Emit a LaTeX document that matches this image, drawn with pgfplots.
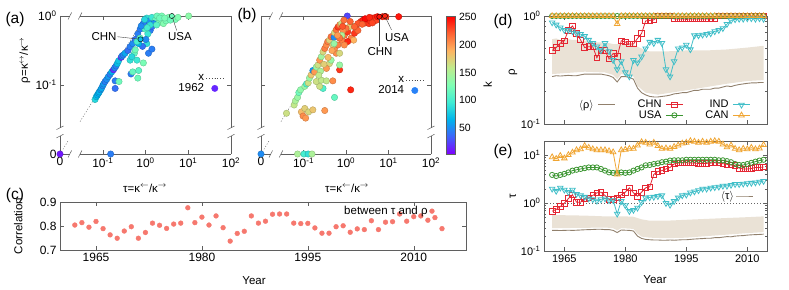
\documentclass[border=0pt]{standalone}
\usepackage{fontspec}
\setmainfont{Liberation Sans}
\usepackage{pgfplots}
\usepackage{pgfplotstable}
\pgfplotsset{compat=1.18}

\definecolor{chn}{RGB}{228,40,52}
\definecolor{usa}{RGB}{60,150,50}
\definecolor{ind}{RGB}{64,190,200}
\definecolor{can}{RGB}{240,165,50}
\definecolor{bandc}{RGB}{234,226,214}
\definecolor{meanc}{RGB}{145,128,108}
\definecolor{corrc}{RGB}{246,120,110}
\definecolor{framec}{RGB}{95,95,95}
\definecolor{k15}{rgb}{0.40,0.15,1.0}
\definecolor{k45}{rgb}{0.16,0.51,0.97}

\pgfplotsset{
  colormap={gprain}{rgb=(0.5,0,1) rgb=(0.25,0.383,0.981) rgb=(0,0.707,0.924) rgb=(0.25,0.924,0.831) rgb=(0.5,1,0.707) rgb=(0.75,0.924,0.556) rgb=(1,0.707,0.383) rgb=(1,0.383,0.195) rgb=(1,0,0)},
  every axis/.append style={scale only axis, axis line style={framec, line width=0.5pt},
    tick style={framec, line width=0.5pt}, major tick length=4pt, minor tick length=2pt,
    /pgf/number format/assume math mode=true,
    tick label style={font=\fontsize{12}{14}\selectfont},
    label style={font=\fontsize{11.5}{13}\selectfont},
    legend style={draw=none, fill=none, font=\fontsize{11.5}{13}\selectfont},
    legend plot pos=right, legend cell align=right},
}

\newcommand{\bx}[2]{\draw[framec, line width=0.5pt] ([shift={(-1.8pt,-3.5pt)}]axis cs:#1,#2) -- ++(3.6pt,7pt);}
\newcommand{\by}[2]{\draw[framec, line width=0.5pt] ([shift={(-3.5pt,-1.8pt)}]axis cs:#1,#2) -- ++(7pt,3.6pt);}
\newcommand{\brokenframe}{%
  \draw[framec, line width=0.5pt] (axis cs:-2,-2) -- (axis cs:-1.77,-2) (axis cs:-1.53,-2) -- (axis cs:2,-2);
  \draw[framec, line width=0.5pt] (axis cs:-2,0) -- (axis cs:-1.77,0) (axis cs:-1.53,0) -- (axis cs:2,0);
  \draw[framec, line width=0.5pt] (axis cs:-2,-2) -- (axis cs:-2,-1.74) (axis cs:-2,-1.62) -- (axis cs:-2,0);
  \draw[framec, line width=0.5pt] (axis cs:2,-2) -- (axis cs:2,-1.74) (axis cs:2,-1.62) -- (axis cs:2,0);
  \bx{-1.77}{-2}\bx{-1.53}{-2}\bx{-1.77}{0}\bx{-1.53}{0}
  \by{-2}{-1.74}\by{-2}{-1.62}\by{2}{-1.74}\by{2}{-1.62}}

% log10(tau) log10(rho) k ; tau=0 or rho=0 drawn at -2
\pgfplotstableread{
x y k
-2 -2 10
-0.815 -2 45
-1.18 -1.21 85
-1.15 -1.17 70
-1.125 -1.145 65
-1.10 -1.12 60
-1.08 -1.10 65
-1.05 -1.07 55
-1.03 -1.05 60
-1.00 -1.01 50
-0.98 -0.985 55
-0.945 -0.95 45
-0.91 -0.92 50
-0.87 -0.88 55
-0.83 -0.845 45
-0.79 -0.81 65
-0.75 -0.78 20
-0.72 -0.75 50
-0.69 -0.725 45
-0.66 -0.69 70
-0.63 -0.65 75
-0.57 -0.60 20
-0.55 -0.58 50
-0.52 -0.565 45
-0.48 -0.54 60
-0.41 -0.50 40
-0.36 -0.445 45
-0.30 -0.40 50
-0.24 -0.34 40
-0.18 -0.26 45
-0.125 -0.19 45
-0.07 -0.13 40
-0.02 -0.08 50
-0.71 -0.94 45
-0.71 -1.05 40
-0.62 -0.95 120
-0.34 -0.84 45
-0.30 -0.81 115
-0.18 -0.90 120
-0.16 -0.79 110
-0.05 -0.68 125
-0.36 -0.64 90
-0.26 -0.54 115
-0.32 -0.59 85
-0.20 -0.64 95
0.07 -0.54 45
0.15 -0.48 45
0.03 -0.40 90
-0.07 -0.44 40
-0.16 -0.40 65
-0.24 -0.49 120
-0.125 -0.32 115
-0.20 -0.37 100
0.11 -0.21 45
0.15 -0.155 40
0.055 -0.26 95
-0.01 -0.19 105
0.01 -0.34 50
0.03 -0.03 90
0.09 -0.07 50
0.15 -0.02 95
0.23 -0.06 115
0.30 -0.10 125
0.37 -0.05 125
0.42 -0.11 130
0.48 -0.07 125
0.54 -0.02 130
0.70 -0.05 125
0.76 -0.02 130
1.01 0 135
0.27 0 120
0.38 0 125
0.19 -0.11 50
-0.05 -0.11 45
-0.10 -0.145 50
-0.02 -0.05 85
0.11 -0.13 90
0.33 -0.03 120
0.45 -0.03 125
0.58 -0.06 120
0.26 -0.13 110
0.04 -0.17 100
}\scatA
\pgfplotstableread{
x y k
-0.117 -0.338 70
0.617 0 120
}\markA

\pgfplotstableread{
x y k
-2 -2 50
-1.14 -2 150
-0.99 -2 100
-0.89 -2 90
-0.80 -2 150
0.03 0 25
-1.40 -1.41 165
-1.22 -1.29 160
-1.19 -1.23 150
-1.14 -1.18 140
-1.11 -1.11 120
-1.07 -1.07 135
-0.97 -1.02 140
-0.93 -0.985 105
-0.89 -0.97 165
-0.86 -0.90 140
-0.82 -0.855 180
-0.78 -0.79 55
-0.74 -0.81 200
-0.70 -0.74 140
-0.66 -0.71 165
-0.62 -0.64 200
-0.58 -0.59 145
-0.54 -0.52 170
-0.50 -0.47 210
-0.46 -0.42 205
-0.43 -0.37 210
-0.39 -0.35 175
-0.35 -0.30 215
-0.28 -0.31 50
-0.27 -0.24 170
-0.23 -0.20 215
-0.19 -0.16 235
-0.15 -0.13 210
-0.11 -0.11 165
-0.05 -0.06 215
0.14 -0.145 140
-1.05 -1.39 185
-0.97 -1.34 175
-1.01 -1.45 205
-0.95 -1.48 200
-0.88 -1.39 170
-0.78 -1.36 180
-0.50 -1.37 200
-0.27 -1.18 115
-0.54 -1.05 105
-0.62 -1.02 165
-0.70 -0.95 165
-0.58 -0.93 160
-0.46 -0.94 160
-0.31 -0.94 205
-0.15 -0.78 235
-0.15 -0.71 140
-0.39 -0.69 170
-0.46 -0.76 200
-0.35 -0.64 140
-0.23 -0.54 205
-0.15 -0.54 170
-0.27 -0.47 205
-0.19 -0.42 210
-0.31 -0.42 175
0.11 -1.07 240
-0.10 -0.35 210
-0.04 -0.28 215
0.04 -0.23 235
0.12 -0.32 210
0.18 -0.35 190
0.20 -0.25 235
0.24 -0.18 215
0.28 -0.21 220
0.08 -0.155 175
0.00 -0.18 215
-0.07 -0.21 205
-0.10 -0.28 150
-0.28 -0.40 140
-0.15 -0.32 215
0.04 -0.37 240
-0.04 -0.42 205
-0.60 -0.80 150
-0.64 -0.86 160
-0.52 -0.70 175
-0.42 -0.60 185
-0.33 -0.50 195
-0.20 -0.28 200
-0.08 -0.15 225
0.10 -0.08 220
0.35 -0.08 235
0.40 -0.06 240
0.46 -0.10 230
0.50 -0.05 245
0.54 -0.11 235
0.57 -0.07 240
0.61 -0.03 245
0.65 -0.08 235
0.69 -0.02 240
0.72 -0.06 230
0.74 -0.01 245
0.86 -0.01 240
0.94 -0.01 235
1.24 -0.01 245
0.28 -0.11 225
0.20 -0.155 220
0.45 -0.04 250
0.55 -0.02 240
0.62 -0.10 230
0.38 -0.12 220
}\scatB
\pgfplotstableread{
x y k
0.784 -0.01 245
0.916 0 240
}\markB

\pgfplotstableread{
year c
1962 0.804
1963 0.814
1964 0.795
1965 0.819
1966 0.789
1967 0.763
1968 0.749
1969 0.779
1970 0.797
1971 0.749
1972 0.773
1973 0.812
1974 0.803
1975 0.790
1976 0.808
1977 0.812
1978 0.876
1979 0.814
1980 0.837
1981 0.804
1982 0.842
1983 0.793
1984 0.737
1985 0.769
1986 0.778
1987 0.842
1988 0.812
1989 0.820
1990 0.849
1991 0.850
1992 0.850
1993 0.812
1994 0.810
1995 0.811
1996 0.792
1997 0.770
1998 0.770
1999 0.797
2000 0.801
2001 0.774
2002 0.788
2003 0.785
2004 0.822
2005 0.785
2006 0.816
2007 0.818
2008 0.850
2009 0.820
2010 0.839
2011 0.842
2012 0.824
2013 0.835
2014 0.789
}\corr

\pgfplotstableread{
year chnr chnt usar usat indr indt canr cant mr mt
1962 0.48 0.68 1 3.9 0.87 2.0 1 9.2 0.275 0.27
1963 0.51 0.74 1 3.7 0.83 1.8 1 8.5 0.28 0.27
1964 0.56 0.85 1 3.9 0.78 2.1 1 9.8 0.278 0.268
1965 0.59 1.0 1 4.1 0.74 1.9 1 8.7 0.28 0.27
1966 0.74 1.25 1 4.4 0.74 1.7 1 10.2 0.282 0.272
1967 0.81 1.5 1 4.8 0.72 1.9 1 11.5 0.28 0.27
1968 0.69 1.05 1 5.0 0.69 1.55 1 12.9 0.28 0.272
1969 0.60 1.05 1 5.2 0.68 1.45 1 13.5 0.285 0.275
1970 0.51 1.25 1 5.4 0.65 1.35 1 15.8 0.29 0.278
1971 0.52 1.3 1 5.6 0.60 1.25 1 14.5 0.29 0.28
1972 0.52 1.45 1 5.6 0.56 1.2 1 13.5 0.29 0.282
1973 0.41 1.65 1 5.6 0.52 1.12 1 12.9 0.29 0.285
1974 0.48 1.7 1 5.2 0.48 1.2 1 12.9 0.29 0.285
1975 0.48 1.45 1 4.8 0.56 1.25 1 12.9 0.285 0.28
1976 0.40 1.2 1 4.4 0.47 1.15 1 12.3 0.28 0.28
1977 0.45 1.2 1 4.3 0.39 1.15 1 11.7 0.27 0.27
1978 0.42 1.3 1 4.3 0.32 0.6 0.845 4.0 0.245 0.243
1979 0.59 1.5 1 4.4 0.38 1.1 1 12.9 0.275 0.275
1980 0.575 1.7 1 4.3 0.30 0.9 1 13.2 0.275 0.272
1981 0.55 2.1 1 4.4 0.275 0.68 1 13.8 0.27 0.27
1982 0.55 1.65 1 4.8 0.39 0.72 1 13.8 0.26 0.262
1983 0.62 1.4 1 5.2 0.37 0.8 1 16.2 0.215 0.205
1984 0.69 1.7 1 5.6 0.42 1.05 1 19.0 0.195 0.183
1985 0.90 2.1 1 6.2 0.50 1.3 1 18.5 0.186 0.175
1986 0.91 2.2 1 6.3 0.575 1.32 1 17.0 0.18 0.172
1987 0.92 4.0 1 6.6 0.56 1.35 1 18.5 0.178 0.17
1988 1 4.6 1 6.8 0.60 1.4 1 15.8 0.178 0.17
1989 1 4.8 1 7.2 0.56 1.45 1 13.8 0.18 0.168
1990 1 5.2 1 7.4 0.32 1.0 1 14.1 0.182 0.168
1991 1 5.6 1 7.8 0.275 0.92 1 13.8 0.185 0.17
1992 0.94 6.6 1 7.9 0.38 1.1 1 15.1 0.19 0.168
1993 0.94 7.0 1 7.9 0.50 1.3 1 16.2 0.192 0.17
1994 0.94 7.0 1 7.9 0.51 1.45 1 17.8 0.195 0.172
1995 0.94 7.0 1 8.1 0.54 1.5 1 18.5 0.195 0.172
1996 0.94 6.9 1 8.1 0.49 1.66 1 20 0.2 0.175
1997 0.94 6.9 1 8.1 0.66 1.75 1 19.5 0.205 0.178
1998 0.94 6.8 1 8.1 0.66 1.85 1 18.5 0.205 0.18
1999 0.94 6.8 1 8.1 0.67 2.0 1 19.5 0.21 0.182
2000 0.94 6.8 1 8.1 0.68 2.0 1 18.5 0.21 0.185
2001 0.94 6.9 1 8.1 0.69 2.1 1 19.5 0.21 0.185
2002 0.94 7.0 1 8.1 0.72 2.15 1 20 0.215 0.19
2003 1 6.9 1 7.9 0.74 2.2 1 19.5 0.215 0.19
2004 1 6.7 1 7.9 0.77 2.3 1 17.0 0.22 0.195
2005 1 6.5 1 7.6 0.84 2.3 1 14.8 0.225 0.2
2006 1 6.3 1 7.2 0.91 2.4 1 16.2 0.222 0.198
2007 1 6.1 1 6.6 0.93 2.5 1 13.8 0.228 0.205
2008 1 5.4 1 6.3 0.94 2.5 1 12.9 0.232 0.208
2009 1 5.2 1 6.3 0.94 2.55 1 13.8 0.235 0.21
2010 1 5.2 1 6.6 0.95 2.6 1 13.5 0.238 0.215
2011 1 5.3 1 7.0 0.95 2.65 1 14.5 0.24 0.218
2012 1 5.6 1 7.4 0.94 2.7 1 13.5 0.24 0.22
2013 1 5.6 1 7.8 0.95 2.8 1 14.0 0.242 0.222
2014 1 5.7 1 8.1 0.94 2.9 1 16.5 0.242 0.225
}\ctry

\begin{document}
\begin{tikzpicture}
\path[use as bounding box] (0,0) rectangle (789pt,289pt);

% ---------------- (a)
\begin{axis}[at={(60pt,135pt)}, anchor=south west, width=171pt, height=138pt,
  xmin=-2, xmax=2, ymin=-2, ymax=0,
  xtick={-2,-1,0,1,2}, xticklabels={0,10\textsuperscript{-1},10\textsuperscript{0},10\textsuperscript{1},10\textsuperscript{2}},
  ytick={-2,-1,0}, yticklabels={0,10\textsuperscript{-1},10\textsuperscript{0}},
  axis line style={draw=none}, clip mode=individual,
  point meta min=3, point meta max=252, colormap name=gprain,
  xlabel={τ=κ$^{\leftarrow}$/κ$^{\rightarrow}$}, xlabel style={at={(axis description cs:0.497,-0.246)}, anchor=center},
  ylabel={ρ=κ$^{\leftrightarrow}$/κ$^{\rightarrow}$}, ylabel style={at={(axis description cs:-0.205,0.68)}, anchor=center},
  legend style={at={(axis description cs:0.975,0.51)}, anchor=east, row sep=-2pt},
]
\brokenframe
\addplot[black!70, dash pattern=on 1pt off 1.8pt, forget plot] coordinates {(-2,-2) (-1.8,-1.8)};
\addplot[black!70, dash pattern=on 1pt off 1.8pt, forget plot] coordinates {(-1.53,-1.53) (0,0)};
\addplot[scatter, only marks, mark=*, mark size=3.2pt, scatter src=explicit, forget plot] table[x=x,y=y,meta=k]{\scatA};
\addplot[scatter, only marks, mark=*, mark size=2.6pt, scatter src=explicit, forget plot,
  scatter/use mapped color={draw=black, fill=mapped color}] table[x=x,y=y,meta=k]{\markA};
\addlegendimage{black!70, dash pattern=on 1pt off 1.8pt}\addlegendentry{x}
\addlegendimage{only marks, mark=*, mark size=3.2pt, color=k15}\addlegendentry{1962}
\node[font=\fontsize{11.5}{13}\selectfont] at (axis cs:-0.97,-0.304) {CHN};
\draw[black!75] (axis cs:-0.66,-0.30) -- (axis cs:-0.16,-0.335);
\node[font=\fontsize{11.5}{13}\selectfont] at (axis cs:0.807,-0.304) {USA};
\draw[black!75] (axis cs:0.63,-0.02) -- (axis cs:0.73,-0.21);
\end{axis}

% ---------------- (b)
\begin{axis}[at={(261pt,135pt)}, anchor=south west, width=170pt, height=138pt,
  xmin=-2, xmax=2, ymin=-2, ymax=0,
  xtick={-2,-1,0,1,2}, xticklabels={0,10\textsuperscript{-1},10\textsuperscript{0},10\textsuperscript{1},10\textsuperscript{2}},
  ytick={-2,-1,0}, yticklabels={},
  axis line style={draw=none}, clip mode=individual,
  point meta min=3, point meta max=252, colormap name=gprain,
  xlabel={τ=κ$^{\leftarrow}$/κ$^{\rightarrow}$}, xlabel style={at={(axis description cs:0.506,-0.246)}, anchor=center},
  legend style={at={(axis description cs:0.975,0.495)}, anchor=east, row sep=-2pt},
  colorbar, colorbar style={at={(parent axis.north east)}, anchor=north west, xshift=7pt,
    width=9pt, height=138pt, ytick={50,100,150,200,250}, major tick length=0pt,
    yticklabel style={font=\fontsize{10.5}{12}\selectfont},
    ylabel={k}, ylabel style={font=\fontsize{11.5}{13}\selectfont}},
]
\brokenframe
\addplot[black!70, dash pattern=on 1pt off 1.8pt, forget plot] coordinates {(-2,-2) (-1.8,-1.8)};
\addplot[black!70, dash pattern=on 1pt off 1.8pt, forget plot] coordinates {(-1.53,-1.53) (0,0)};
\addplot[scatter, only marks, mark=*, mark size=3.2pt, scatter src=explicit, forget plot] table[x=x,y=y,meta=k]{\scatB};
\addplot[scatter, only marks, mark=*, mark size=2.6pt, scatter src=explicit, forget plot,
  scatter/use mapped color={draw=black, fill=mapped color}] table[x=x,y=y,meta=k]{\markB};
\addlegendimage{black!70, dash pattern=on 1pt off 1.8pt}\addlegendentry{x}
\addlegendimage{only marks, mark=*, mark size=3.2pt, color=k45}\addlegendentry{2014}
\node[font=\fontsize{11.5}{13}\selectfont] at (axis cs:1.2,-0.31) {USA};
\draw[black!75] (axis cs:0.93,-0.02) -- (axis cs:1.07,-0.2);
\node[font=\fontsize{11.5}{13}\selectfont] at (axis cs:0.8,-0.52) {CHN};
\draw[black!75] (axis cs:0.784,-0.04) -- (axis cs:0.784,-0.43);
\end{axis}

% ---------------- (c)
\begin{axis}[at={(60pt,39pt)}, anchor=south west, width=406pt, height=48pt,
  xmin=1959.9, xmax=2017.4, ymin=0.7, ymax=0.9,
  ytick={0.7,0.8,0.9}, yticklabels={0.7,0.8,0.9},
  xtick={1965,1980,1995,2010}, xticklabels={1965,1980,1995,2010},
  xlabel={Year}, xlabel style={at={(axis description cs:0.478,-0.646)}, anchor=center},
  ylabel={Correlation}, ylabel style={at={(axis description cs:-0.103,0.5)}, anchor=center},
  legend style={at={(axis description cs:0.93,0.81)}, anchor=east},
]
\addplot[only marks, mark=*, mark size=2.4pt, color=corrc] table[x=year,y=c]{\corr};
\addlegendentry{between τ and ρ}
\end{axis}

% ---------------- (d)
\begin{axis}[at={(544pt,165pt)}, anchor=south west, width=223pt, height=108pt,
  xmin=1960, xmax=2014.85, ymode=log, ymin=0.1, ymax=1,
  ytick={0.1,1}, yticklabels={10\textsuperscript{-1},10\textsuperscript{0}},
  minor ytick={0.2,0.3,0.4,0.5,0.6,0.7,0.8,0.9},
  xtick={1965,1980,1995,2010}, xticklabels={},
  tick label style={font=\fontsize{11}{13}\selectfont},
  clip mode=individual,
  ylabel={ρ}, ylabel style={at={(axis description cs:-0.139,0.48)}, anchor=center},
  legend columns=3, legend style={at={(axis description cs:0.94,0.13)}, anchor=east,
    font=\fontsize{11}{12}\selectfont, row sep=-3pt,
    /tikz/every odd column/.style={column sep=2pt},
    /tikz/every even column/.style={column sep=20pt}},
]
\addplot[fill=bandc, draw=none, forget plot] coordinates {
 (1962,0.61) (1963,0.62) (1964,0.60) (1965,0.61) (1966,0.61) (1967,0.60) (1968,0.60) (1969,0.59)
 (1970,0.59) (1971,0.58) (1972,0.58) (1973,0.57) (1974,0.57) (1975,0.56) (1976,0.56) (1977,0.55)
 (1978,0.55) (1979,0.56) (1980,0.55) (1981,0.55) (1982,0.54) (1983,0.52) (1984,0.50) (1985,0.48)
 (1986,0.47) (1990,0.47) (1995,0.48) (2000,0.48) (2005,0.49) (2010,0.51) (2014,0.53)
 (2014,0.255) (2010,0.25) (2005,0.236) (2000,0.22) (1995,0.205) (1988,0.187) (1985,0.195)
 (1983,0.225) (1982,0.275) (1979,0.29) (1978,0.26) (1977,0.285) (1975,0.30) (1970,0.305) (1962,0.29)
} -- cycle;
\addplot[meanc, line width=0.9pt, forget plot] table[x=year,y=mr]{\ctry};
\addplot[chn, line width=0.8pt, mark=square, mark size=2.8pt, forget plot] table[x=year,y=chnr]{\ctry};
\addplot[usa, line width=0.8pt, mark=o, mark size=2.6pt, forget plot] table[x=year,y=usar]{\ctry};
\addplot[ind, line width=0.8pt, mark=triangle, mark size=3.2pt, mark options={rotate=180}, forget plot] table[x=year,y=indr]{\ctry};
\addplot[can, line width=0.8pt, mark=triangle, mark size=3.2pt, forget plot] table[x=year,y=canr]{\ctry};
\addlegendimage{meanc, line width=0.9pt}\addlegendentry{$\langle$ρ$\rangle$}
\addlegendimage{chn, line width=0.8pt, mark=square, mark size=2.8pt}\addlegendentry{CHN}
\addlegendimage{ind, line width=0.8pt, mark=triangle, mark size=3.2pt, mark options={rotate=180}}\addlegendentry{IND}
\addlegendimage{empty legend}\addlegendentry{}
\addlegendimage{usa, line width=0.8pt, mark=o, mark size=2.6pt}\addlegendentry{USA}
\addlegendimage{can, line width=0.8pt, mark=triangle, mark size=3.2pt}\addlegendentry{CAN}
\end{axis}

% ---------------- (e)
\begin{axis}[at={(544pt,38pt)}, anchor=south west, width=223pt, height=110pt,
  xmin=1960, xmax=2014.85, ymode=log, ymin=0.1, ymax=20,
  ytick={0.1,1,10}, yticklabels={10\textsuperscript{-1},10\textsuperscript{0},10\textsuperscript{1}},
  minor ytick={0.2,0.3,0.4,0.5,0.6,0.7,0.8,0.9,2,3,4,5,6,7,8,9},
  xtick={1965,1980,1995,2010}, xticklabels={1965,1980,1995,2010},
  tick label style={font=\fontsize{11}{13}\selectfont},
  clip mode=individual,
  xlabel={Year}, xlabel style={at={(axis description cs:0.498,-0.264)}, anchor=center},
  ylabel={τ}, ylabel style={at={(axis description cs:-0.139,0.5)}, anchor=center},
  legend style={at={(axis description cs:0.955,0.5)}, anchor=east, font=\fontsize{11}{12}\selectfont},
]
\addplot[fill=bandc, draw=none, forget plot] coordinates {
 (1962,0.56) (1965,0.56) (1970,0.55) (1975,0.53) (1980,0.53) (1982,0.52) (1984,0.46) (1986,0.43)
 (1990,0.43) (1995,0.45) (2000,0.47) (2005,0.49) (2010,0.51) (2014,0.53)
 (2014,0.248) (2010,0.237) (2005,0.22) (2000,0.205) (1995,0.19) (1990,0.185) (1986,0.19) (1984,0.2)
 (1983,0.23) (1982,0.29) (1979,0.3) (1978,0.27) (1977,0.3) (1975,0.31) (1970,0.305) (1962,0.3)
} -- cycle;
\addplot[black!60, dash pattern=on 1.2pt off 1.8pt, forget plot] coordinates {(1960,1) (2014.85,1)};
\addplot[meanc, line width=0.9pt, forget plot] table[x=year,y=mt]{\ctry};
\addplot[chn, line width=0.8pt, mark=square, mark size=2.8pt, forget plot] table[x=year,y=chnt]{\ctry};
\addplot[usa, line width=0.8pt, mark=o, mark size=2.6pt, forget plot] table[x=year,y=usat]{\ctry};
\addplot[ind, line width=0.8pt, mark=triangle, mark size=3.2pt, mark options={rotate=180}, forget plot] table[x=year,y=indt]{\ctry};
\addplot[can, line width=0.8pt, mark=triangle, mark size=3.2pt, forget plot] table[x=year,y=cant]{\ctry};
\addlegendimage{meanc, line width=0.9pt}\addlegendentry{$\langle$τ$\rangle$}
\end{axis}

\node[font=\fontsize{15.5}{18}\selectfont] at (15pt,269.5pt) {(a)};
\node[font=\fontsize{15.5}{18}\selectfont] at (247pt,273.5pt) {(b)};
\node[font=\fontsize{15.5}{18}\selectfont] at (15pt,94pt) {(c)};
\node[font=\fontsize{15.5}{18}\selectfont] at (503pt,267.5pt) {(d)};
\node[font=\fontsize{15.5}{18}\selectfont] at (503pt,137.5pt) {(e)};
\end{tikzpicture}
\end{document}
